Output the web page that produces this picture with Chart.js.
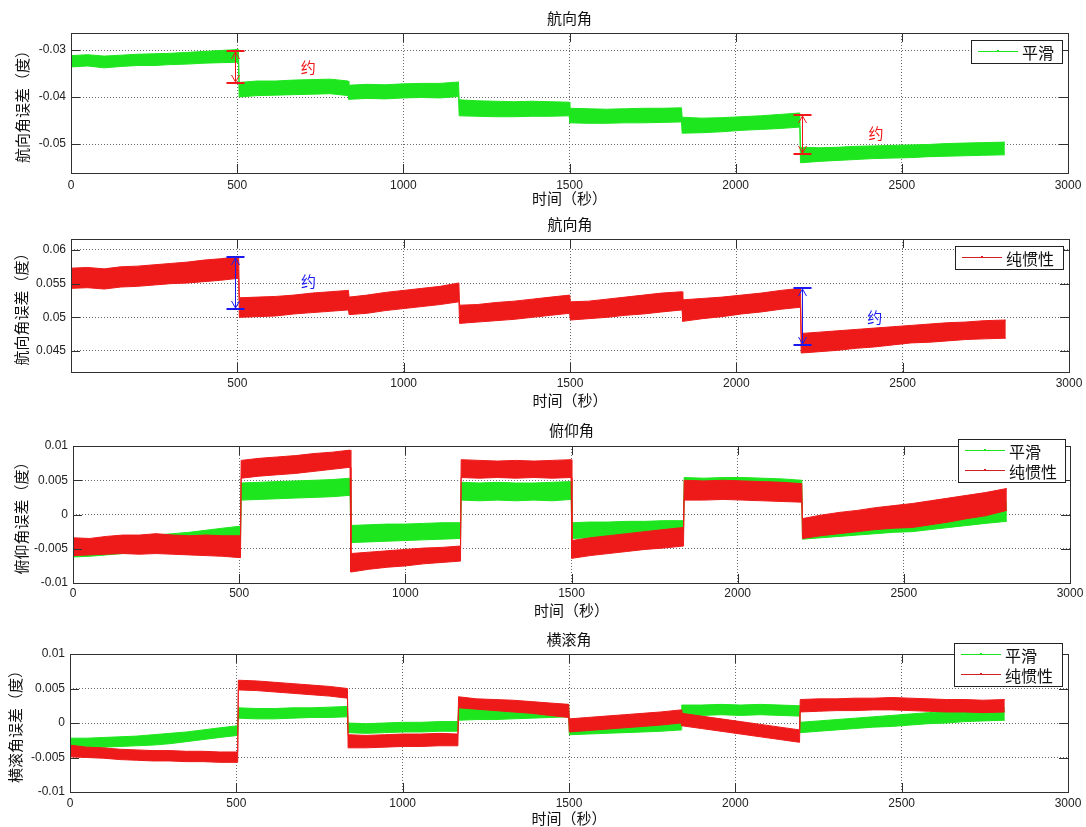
<!DOCTYPE html>
<html>
<head>
<meta charset="utf-8">
<script src="https://cdn.jsdelivr.net/npm/chart.js@4.4.0/dist/chart.umd.min.js"></script>
<style>
  html, body { margin: 0; padding: 0; background: #fff; }
  #wrap { position: relative; width: 1086px; height: 827px; }
  canvas { position: absolute; left: 0; }
</style>
</head>
<body>
<div id="wrap">
  <canvas id="c1" width="1086" height="210" style="top:0px"></canvas>
  <canvas id="c2" width="1086" height="210" style="top:210px"></canvas>
  <canvas id="c3" width="1086" height="205" style="top:420px"></canvas>
  <canvas id="c4" width="1086" height="202" style="top:625px"></canvas>
</div>
<script>
// time samples (s), one row per segment between the steps
const timeSec = [0, 50, 100, 150, 200, 250, 300, 350, 400, 450, 504,
  506, 560, 615, 670, 725, 780, 834,
  836, 890, 945, 1000, 1055, 1110, 1166,
  1168, 1222, 1277, 1332, 1387, 1442, 1499,
  1501, 1556, 1611, 1666, 1721, 1776, 1837,
  1839, 1898, 1957, 2016, 2075, 2134, 2193,
  2195, 2250, 2305, 2360, 2415, 2470, 2525, 2580, 2635, 2690, 2745, 2810];

// upper / lower edge of each noisy trace
const headingSmoothHi = [-0.0312, -0.0310, -0.0313, -0.0311, -0.0309, -0.0308, -0.0307, -0.0305, -0.0303, -0.0301, -0.0299,
  -0.0369, -0.0366, -0.0366, -0.0364, -0.0363, -0.0362, -0.0366,
  -0.0375, -0.0373, -0.0374, -0.0372, -0.0371, -0.0371, -0.0368,
  -0.0406, -0.0408, -0.0409, -0.0410, -0.0409, -0.0410, -0.0411,
  -0.0424, -0.0425, -0.0426, -0.0425, -0.0424, -0.0424, -0.0423,
  -0.0443, -0.0445, -0.0444, -0.0442, -0.0440, -0.0437, -0.0434,
  -0.0507, -0.0508, -0.0507, -0.0505, -0.0504, -0.0503, -0.0502, -0.0501, -0.0499, -0.0498, -0.0497, -0.0496];
const headingSmoothLo = [-0.0336, -0.0334, -0.0338, -0.0335, -0.0333, -0.0333, -0.0331, -0.0330, -0.0328, -0.0327, -0.0326,
  -0.0400, -0.0397, -0.0396, -0.0395, -0.0394, -0.0393, -0.0397,
  -0.0405, -0.0403, -0.0404, -0.0402, -0.0401, -0.0402, -0.0399,
  -0.0440, -0.0441, -0.0442, -0.0442, -0.0441, -0.0441, -0.0440,
  -0.0455, -0.0456, -0.0456, -0.0455, -0.0455, -0.0454, -0.0453,
  -0.0477, -0.0476, -0.0474, -0.0471, -0.0469, -0.0467, -0.0464,
  -0.0540, -0.0537, -0.0535, -0.0533, -0.0531, -0.0530, -0.0529, -0.0527, -0.0526, -0.0525, -0.0524, -0.0523];

const headingInertialHi = [0.0573, 0.0574, 0.0572, 0.0575, 0.0576, 0.0578, 0.0580, 0.0582, 0.0585, 0.0587, 0.0590,
  0.0529, 0.0530, 0.0531, 0.0533, 0.0536, 0.0538, 0.0540,
  0.0530, 0.0533, 0.0537, 0.0540, 0.0543, 0.0546, 0.0551,
  0.0518, 0.0519, 0.0522, 0.0524, 0.0527, 0.0530, 0.0533,
  0.0523, 0.0524, 0.0527, 0.0530, 0.0533, 0.0536, 0.0538,
  0.0526, 0.0528, 0.0530, 0.0533, 0.0536, 0.0540, 0.0543,
  0.0476, 0.0478, 0.0480, 0.0482, 0.0484, 0.0486, 0.0488, 0.0490, 0.0492, 0.0493, 0.0495, 0.0496];
const headingInertialLo = [0.0543, 0.0544, 0.0542, 0.0545, 0.0546, 0.0548, 0.0550, 0.0551, 0.0553, 0.0555, 0.0558,
  0.0500, 0.0501, 0.0502, 0.0505, 0.0507, 0.0509, 0.0511,
  0.0504, 0.0506, 0.0510, 0.0513, 0.0516, 0.0519, 0.0523,
  0.0491, 0.0493, 0.0495, 0.0497, 0.0500, 0.0503, 0.0506,
  0.0496, 0.0498, 0.0500, 0.0503, 0.0505, 0.0508, 0.0511,
  0.0494, 0.0498, 0.0501, 0.0505, 0.0508, 0.0512, 0.0515,
  0.0447, 0.0449, 0.0451, 0.0454, 0.0456, 0.0459, 0.0462, 0.0463, 0.0465, 0.0467, 0.0468, 0.0469];

const pitchSmoothHi = [-0.0040, -0.0038, -0.0036, -0.0034, -0.0032, -0.0030, -0.0028, -0.0026, -0.0023, -0.0020, -0.0017,
  0.0046, 0.0047, 0.0048, 0.0049, 0.0050, 0.0051, 0.0053,
  -0.0016, -0.0015, -0.0014, -0.0014, -0.0013, -0.0012, -0.0012,
  0.0047, 0.0046, 0.0047, 0.0046, 0.0046, 0.0047, 0.0048,
  -0.0012, -0.0011, -0.0011, -0.0010, -0.0010, -0.0009, -0.0009,
  0.0054, 0.0053, 0.0054, 0.0054, 0.0053, 0.0052, 0.0050,
  -0.0008, -0.0006, -0.0004, -0.0002, 0.0001, 0.0003, 0.0005, 0.0007, 0.0010, 0.0012, 0.0015, 0.0018];
const pitchSmoothLo = [-0.0062, -0.0061, -0.0059, -0.0057, -0.0055, -0.0053, -0.0051, -0.0049, -0.0046, -0.0043, -0.0040,
  0.0021, 0.0022, 0.0023, 0.0024, 0.0025, 0.0026, 0.0028,
  -0.0041, -0.0040, -0.0039, -0.0038, -0.0037, -0.0036, -0.0035,
  0.0021, 0.0020, 0.0021, 0.0020, 0.0021, 0.0020, 0.0022,
  -0.0035, -0.0034, -0.0033, -0.0032, -0.0030, -0.0028, -0.0026,
  0.0028, 0.0027, 0.0028, 0.0028, 0.0027, 0.0026, 0.0025,
  -0.0036, -0.0034, -0.0032, -0.0030, -0.0028, -0.0026, -0.0025, -0.0022, -0.0019, -0.0016, -0.0013, -0.0010];
const pitchInertialHi = [-0.0034, -0.0035, -0.0032, -0.0030, -0.0030, -0.0028, -0.0030, -0.0031, -0.0030, -0.0031, -0.0031,
  0.0079, 0.0082, 0.0084, 0.0086, 0.0089, 0.0091, 0.0094,
  -0.0057, -0.0055, -0.0053, -0.0051, -0.0049, -0.0048, -0.0046,
  0.0080, 0.0079, 0.0078, 0.0079, 0.0078, 0.0079, 0.0080,
  -0.0038, -0.0034, -0.0031, -0.0028, -0.0025, -0.0022, -0.0019,
  0.0050, 0.0049, 0.0050, 0.0049, 0.0048, 0.0047, 0.0045,
  -0.0006, -0.0001, 0.0003, 0.0006, 0.0010, 0.0013, 0.0016, 0.0020, 0.0024, 0.0028, 0.0032, 0.0038];
const pitchInertialLo = [-0.0060, -0.0059, -0.0058, -0.0057, -0.0058, -0.0057, -0.0058, -0.0059, -0.0060, -0.0061, -0.0063,
  0.0053, 0.0056, 0.0058, 0.0060, 0.0063, 0.0066, 0.0069,
  -0.0084, -0.0080, -0.0077, -0.0075, -0.0072, -0.0070, -0.0068,
  0.0054, 0.0053, 0.0054, 0.0053, 0.0054, 0.0053, 0.0054,
  -0.0064, -0.0060, -0.0057, -0.0054, -0.0051, -0.0049, -0.0046,
  0.0021, 0.0021, 0.0022, 0.0021, 0.0020, 0.0019, 0.0018,
  -0.0035, -0.0031, -0.0028, -0.0025, -0.0022, -0.0020, -0.0019, -0.0015, -0.0011, -0.0006, -0.0002, 0.0006];

const rollSmoothHi = [-0.0022, -0.0022, -0.0021, -0.0020, -0.0019, -0.0017, -0.0015, -0.0013, -0.0010, -0.0007, -0.0004,
  0.0022, 0.0021, 0.0021, 0.0022, 0.0022, 0.0023, 0.0024,
  0.0000, -0.0001, 0.0000, 0.0001, 0.0001, 0.0002, 0.0002,
  0.0023, 0.0024, 0.0024, 0.0025, 0.0025, 0.0026, 0.0027,
  0.0001, 0.0002, 0.0003, 0.0004, 0.0005, 0.0006, 0.0008,
  0.0026, 0.0026, 0.0027, 0.0026, 0.0027, 0.0026, 0.0025,
  0.0001, 0.0003, 0.0005, 0.0007, 0.0009, 0.0011, 0.0013, 0.0015, 0.0017, 0.0018, 0.0020, 0.0022];
const rollSmoothLo = [-0.0037, -0.0036, -0.0035, -0.0034, -0.0033, -0.0032, -0.0030, -0.0027, -0.0024, -0.0021, -0.0018,
  0.0007, 0.0006, 0.0006, 0.0007, 0.0008, 0.0008, 0.0009,
  -0.0014, -0.0015, -0.0014, -0.0013, -0.0013, -0.0012, -0.0012,
  0.0004, 0.0005, 0.0005, 0.0006, 0.0007, 0.0008, 0.0009,
  -0.0017, -0.0016, -0.0015, -0.0014, -0.0013, -0.0012, -0.0010,
  0.0011, 0.0011, 0.0012, 0.0011, 0.0012, 0.0011, 0.0010,
  -0.0014, -0.0012, -0.0010, -0.0008, -0.0006, -0.0005, -0.0003, -0.0001, 0.0000, 0.0002, 0.0003, 0.0004];
const rollInertialHi = [-0.0032, -0.0035, -0.0036, -0.0038, -0.0039, -0.0040, -0.0040, -0.0041, -0.0041, -0.0042, -0.0042,
  0.0062, 0.0061, 0.0059, 0.0057, 0.0055, 0.0053, 0.0050,
  -0.0017, -0.0018, -0.0017, -0.0016, -0.0016, -0.0015, -0.0016,
  0.0038, 0.0035, 0.0034, 0.0033, 0.0031, 0.0029, 0.0027,
  0.0006, 0.0008, 0.0010, 0.0012, 0.0014, 0.0016, 0.0019,
  0.0014, 0.0010, 0.0006, 0.0002, -0.0002, -0.0006, -0.0010,
  0.0034, 0.0035, 0.0035, 0.0036, 0.0036, 0.0037, 0.0036, 0.0035, 0.0034, 0.0034, 0.0033, 0.0034];
const rollInertialLo = [-0.0049, -0.0050, -0.0051, -0.0053, -0.0054, -0.0055, -0.0055, -0.0056, -0.0056, -0.0057, -0.0057,
  0.0048, 0.0047, 0.0045, 0.0043, 0.0041, 0.0039, 0.0036,
  -0.0036, -0.0036, -0.0035, -0.0034, -0.0034, -0.0033, -0.0033,
  0.0022, 0.0020, 0.0018, 0.0016, 0.0014, 0.0011, 0.0008,
  -0.0013, -0.0011, -0.0009, -0.0007, -0.0005, -0.0003, 0.0000,
  -0.0004, -0.0008, -0.0012, -0.0016, -0.0020, -0.0024, -0.0028,
  0.0016, 0.0017, 0.0018, 0.0018, 0.0019, 0.0019, 0.0018, 0.0017, 0.0016, 0.0016, 0.0015, 0.0016];

// tick values
const xTicksFull = [0, 500, 1000, 1500, 2000, 2500, 3000];
const xTicksNoZero = [500, 1000, 1500, 2000, 2500, 3000];
const yTicksHeadingSmooth = [-0.05, -0.04, -0.03];
const yTicksHeadingInertial = [0.045, 0.05, 0.055, 0.06];
const yTicksAttitude = [-0.01, -0.005, 0, 0.005, 0.01];

// the marked jumps (time, top, bottom) and the note positions
const smoothJumpT = [494, 2200];
const smoothJumpTop = [-0.0302, -0.0438];
const smoothJumpBottom = [-0.0370, -0.0521];
const smoothNoteT = [714, 2422];
const smoothNoteV = [-0.0336, -0.0477];
const inertialJumpT = [494, 2196];
const inertialJumpTop = [0.0590, 0.0543];
const inertialJumpBottom = [0.0512, 0.0459];
const inertialNoteT = [714, 2416];
const inertialNoteV = [0.0553, 0.0500];

const smoothName = '平滑';
const inertialName = '纯惯性';
const timeLabel = '时间（秒）';

const GREEN = '#1ee61e';
const RED = '#ee1a1a';
const CJK = '"Noto Sans CJK SC", "Noto Sans", sans-serif';
const NUM = '"Liberation Sans", Arial, sans-serif';

function band(hi, lo, color) {
  return [
    { data: timeSec.map((t, i) => ({ x: t, y: hi[i] })), borderColor: color, backgroundColor: color,
      borderWidth: 1, fill: '+1', pointRadius: 0 },
    { data: timeSec.map((t, i) => ({ x: t, y: lo[i] })), borderColor: color, backgroundColor: color,
      borderWidth: 1, fill: false, pointRadius: 0 }
  ];
}

function makePanel(id, o) {
  const canvas = document.getElementById(id);
  const decor = {
    id: 'decor' + id,
    afterDatasetsDraw(chart) {
      if (!o.jumps) return;
      const { ctx, scales: { x, y } } = chart;
      const j = o.jumps;
      ctx.save();
      ctx.strokeStyle = j.color;
      ctx.fillStyle = j.color;
      j.t.forEach((t, i) => {
        const px = Math.round(x.getPixelForValue(t)) + 0.5;
        const p1 = Math.round(y.getPixelForValue(j.top[i]));
        const p2 = Math.round(y.getPixelForValue(j.bottom[i]));
        ctx.lineWidth = 2;
        ctx.beginPath();
        ctx.moveTo(px - 9, p1); ctx.lineTo(px + 9, p1);
        ctx.moveTo(px - 9, p2); ctx.lineTo(px + 9, p2);
        ctx.stroke();
        ctx.lineWidth = 1;
        ctx.beginPath();
        ctx.moveTo(px, p1); ctx.lineTo(px, p2);
        ctx.moveTo(px - 4, p1 + 8); ctx.lineTo(px, p1 + 1); ctx.lineTo(px + 4, p1 + 8);
        ctx.moveTo(px - 4, p2 - 8); ctx.lineTo(px, p2 - 1); ctx.lineTo(px + 4, p2 - 8);
        ctx.stroke();
      });
      ctx.font = '15px ' + CJK;
      ctx.textAlign = 'center';
      ctx.textBaseline = 'middle';
      j.noteT.forEach((t, i) => {
        ctx.fillText('约', x.getPixelForValue(t), y.getPixelForValue(j.noteV[i]));
      });
      ctx.restore();
    },
    afterDraw(chart) {
      const { ctx, chartArea: { left, top, right, bottom }, scales: { x, y } } = chart;
      ctx.save();
      ctx.strokeStyle = '#303030';
      ctx.lineWidth = 1;
      ctx.strokeRect(left + 0.5, top + 0.5, right - left, bottom - top);
      ctx.beginPath();
      x.ticks.forEach(tk => {
        const px = Math.round(x.getPixelForValue(tk.value)) + 0.5;
        ctx.moveTo(px, bottom); ctx.lineTo(px, bottom - 9);
        ctx.moveTo(px, top); ctx.lineTo(px, top + 9);
      });
      y.ticks.forEach(tk => {
        const py = Math.round(y.getPixelForValue(tk.value)) + 0.5;
        ctx.moveTo(left, py); ctx.lineTo(left + 9, py);
        ctx.moveTo(right, py); ctx.lineTo(right - 9, py);
      });
      ctx.stroke();

      // legend box
      const lg = o.legend;
      const bh = 3 + 20 * lg.items.length;
      const bx = right - lg.right - lg.width;
      const by = top + lg.top;
      ctx.fillStyle = '#fff';
      ctx.fillRect(bx, by, lg.width, bh);
      ctx.strokeStyle = '#222';
      ctx.strokeRect(bx + 0.5, by + 0.5, lg.width, bh);
      ctx.font = '16px ' + CJK;
      ctx.textAlign = 'left';
      ctx.textBaseline = 'middle';
      lg.items.forEach((it, i) => {
        const cy = Math.round(by + 11 + 20 * i) + 0.5;
        ctx.strokeStyle = it.color;
        ctx.lineWidth = 1.2;
        ctx.beginPath();
        ctx.moveTo(bx + 7, cy); ctx.lineTo(bx + 47, cy);
        ctx.stroke();
        ctx.fillStyle = it.color;
        ctx.fillRect(bx + 26, cy - 1.5, 2, 2);
        ctx.fillStyle = '#111';
        ctx.fillText(it.text, bx + 51, cy + 1);
      });
      ctx.restore();
    }
  };

  return new Chart(canvas, {
    type: 'line',
    data: { datasets: o.datasets },
    plugins: [decor],
    options: {
      responsive: false,
      animation: false,
      devicePixelRatio: 1,
      layout: { padding: { left: 0, right: 1086 - o.area.right, top: 0, bottom: 0 } },
      elements: { line: { tension: 0 }, point: { radius: 0 } },
      scales: {
        x: {
          type: 'linear',
          min: 0,
          max: 3000,
          afterBuildTicks: (axis) => { axis.ticks = o.xTicks.map(v => ({ value: v })); },
          afterFit: (axis) => {
            axis.height = canvas.height - o.area.bottom;
            axis.paddingLeft = 0;
            axis.paddingRight = 0;
          },
          grid: { color: '#6a6a6a', lineWidth: 1, drawTicks: false },
          border: { display: false, dash: [1, 2] },
          ticks: {
            padding: o.xTickPad,
            maxRotation: 0,
            autoSkip: false,
            color: '#222',
            font: { family: NUM, size: 12, lineHeight: 1.2 },
            callback: (v) => String(v)
          },
          title: {
            display: true,
            text: timeLabel,
            color: '#111',
            padding: { top: 0, bottom: o.xTitlePad },
            font: { family: CJK, size: 15, lineHeight: 1.2 }
          }
        },
        y: {
          min: o.yMin,
          max: o.yMax,
          afterBuildTicks: (axis) => { axis.ticks = o.yTicks.map(v => ({ value: v })); },
          afterFit: (axis) => {
            axis.width = o.area.left;
            axis.paddingTop = 0;
            axis.paddingBottom = 0;
          },
          grid: { color: '#6a6a6a', lineWidth: 1, drawTicks: false },
          border: { display: false, dash: [1, 2] },
          ticks: {
            padding: 5,
            color: '#222',
            font: { family: NUM, size: 12, lineHeight: 1.2 },
            callback: (v) => String(+v.toFixed(4))
          },
          title: {
            display: true,
            text: o.yLabel,
            color: '#111',
            padding: { top: o.yTitlePad, bottom: 0 },
            font: { family: CJK, size: 15, lineHeight: 1.2 }
          }
        }
      },
      plugins: {
        legend: { display: false },
        tooltip: { enabled: false },
        title: {
          display: true,
          text: o.title,
          fullSize: false,
          color: '#111',
          padding: o.titlePad,
          font: { family: CJK, size: 15, weight: 'normal', lineHeight: 1.2 }
        }
      }
    }
  });
}

makePanel('c1', {
  title: '航向角',
  yLabel: '航向角误差（度）',
  area: { left: 71, right: 1068, bottom: 173 },
  titlePad: { top: 9, bottom: 6 },
  xTickPad: 5, xTitlePad: 3, yTitlePad: 13,
  yMin: -0.05617, yMax: -0.02638,
  xTicks: xTicksFull, yTicks: yTicksHeadingSmooth,
  datasets: band(headingSmoothHi, headingSmoothLo, GREEN),
  jumps: { t: smoothJumpT, top: smoothJumpTop, bottom: smoothJumpBottom, noteT: smoothNoteT, noteV: smoothNoteV, color: '#f01818' },
  legend: { right: 6, top: 7, width: 91, items: [{ text: smoothName, color: GREEN }] }
});

makePanel('c2', {
  title: '航向角',
  yLabel: '航向角误差（度）',
  area: { left: 71, right: 1069, bottom: 162 },
  titlePad: { top: 5, bottom: 6 },
  xTickPad: 4.5, xTitlePad: 11, yTitlePad: 12,
  yMin: 0.04188, yMax: 0.06163,
  xTicks: xTicksNoZero, yTicks: yTicksHeadingInertial,
  datasets: band(headingInertialHi, headingInertialLo, RED),
  jumps: { t: inertialJumpT, top: inertialJumpTop, bottom: inertialJumpBottom, noteT: inertialNoteT, noteV: inertialNoteV, color: '#1a1af0' },
  legend: { right: 6, top: 7, width: 108, items: [{ text: inertialName, color: '#d42020' }] }
});

makePanel('c3', {
  title: '俯仰角',
  yLabel: '俯仰角误差（度）',
  area: { left: 73, right: 1070, bottom: 163 },
  titlePad: { top: 1, bottom: 7 },
  xTickPad: 3, xTitlePad: 6, yTitlePad: 12,
  yMin: -0.01, yMax: 0.01,
  xTicks: xTicksFull, yTicks: yTicksAttitude,
  datasets: band(pitchInertialHi, pitchInertialLo, RED).concat(band(pitchSmoothHi, pitchSmoothLo, GREEN)),
  legend: { right: 5, top: -7, width: 107, items: [{ text: smoothName, color: GREEN }, { text: inertialName, color: '#d42020' }] }
});

makePanel('c4', {
  title: '横滚角',
  yLabel: '横滚角误差（度）',
  area: { left: 70, right: 1068, bottom: 167 },
  titlePad: { top: 5, bottom: 6 },
  xTickPad: 4, xTitlePad: 0, yTitlePad: 6,
  yMin: -0.01, yMax: 0.01,
  xTicks: xTicksFull, yTicks: yTicksAttitude,
  datasets: band(rollInertialHi, rollInertialLo, RED).concat(band(rollSmoothHi, rollSmoothLo, GREEN)),
  legend: { right: 6, top: -11, width: 108, items: [{ text: smoothName, color: GREEN }, { text: inertialName, color: '#d42020' }] }
});
</script>
</body>
</html>
